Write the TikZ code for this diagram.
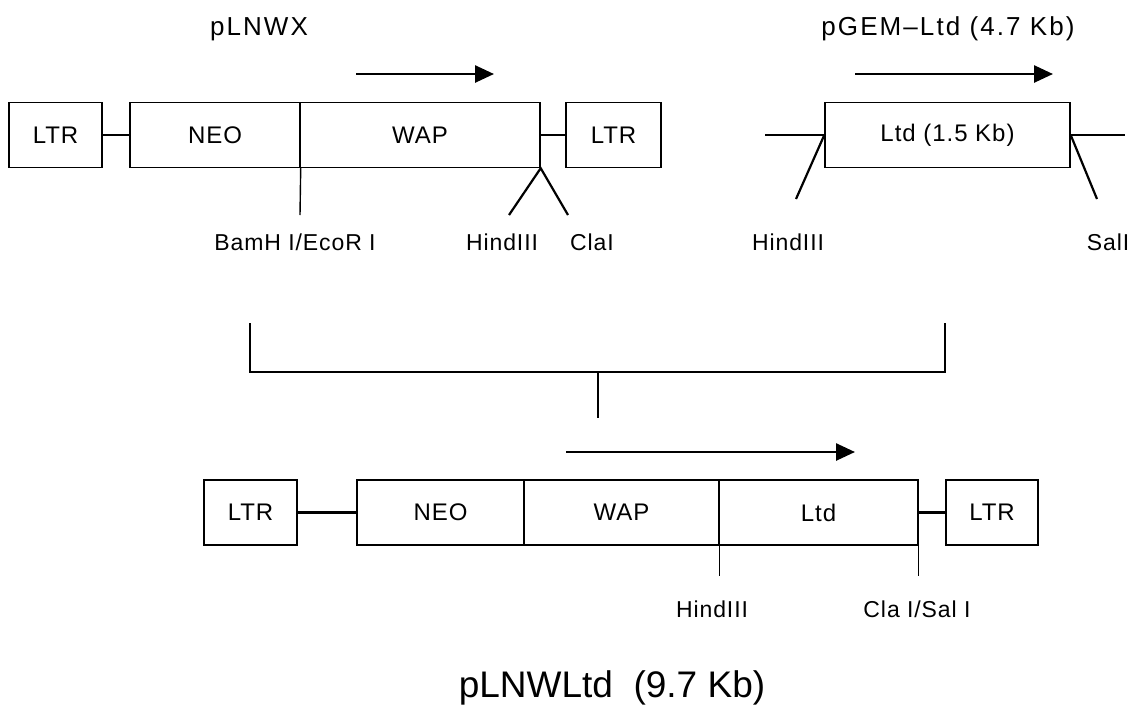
\documentclass[tikz,border=0pt]{standalone}
\usepackage{fontspec}
\setmainfont{Liberation Sans}
\usetikzlibrary{positioning, arrows.meta}

\begin{document}
\begin{tikzpicture}[x=1pt, y=-1pt,
  box/.style={draw, line width=1.4pt, minimum height=65pt, inner sep=0pt, font=\fontsize{24}{28}\selectfont\addfontfeature{LetterSpace=4}},
  site/.style={font=\fontsize{23}{27}\selectfont\addfontfeature{LetterSpace=4}, anchor=base},
  title/.style={font=\fontsize{26}{31}\selectfont\addfontfeature{LetterSpace=8}, anchor=base},
  link/.style={line width=2.2pt},
  cut/.style={line width=1.4pt},
  dir/.style={line width=2.6pt, -{Triangle[length=19pt, width=17pt]}}]
  \useasboundingbox (0,0) rectangle (1130,713);

  \node[title] (pLNWX) at (259,35) {pLNWX};
  \node[title] (pGEM) at (948,35) {pGEM–Ltd (4.7 Kb)};
  \draw[dir] (356,74) -- (494,74);
  \draw[dir] (855,74) -- (1053,74);

  \node[box, minimum width=93pt] (ltrA) at (55.5,135) {LTR};
  \node[box, minimum width=170pt] (neoA) at (215,135) {NEO};
  \node[box, minimum width=240pt] (wapA) at (420,135) {WAP};
  \node[box, minimum width=95pt] (ltrB) at (613.5,135) {LTR};
  \node[box, minimum width=245pt] (ltdA) at (947.5,135) {Ltd (1.5 Kb)};
  \draw[link] (ltrA) -- (neoA);
  \draw[link] (wapA) -- (ltrB);
  \coordinate (vecL) at (765,135);
  \coordinate (vecR) at (1125,135);
  \draw[link] (vecL) -- (ltdA.west);
  \draw[link] (ltdA.east) -- (vecR);

  \coordinate (bamA) at (300,215);
  \coordinate (hinA) at (509,215);
  \coordinate (claA) at (568,215);
  \coordinate (hinB) at (796,199);
  \coordinate (salB) at (1097,199);
  \draw[cut] (neoA.south east) -- (bamA);
  \draw[link] (hinA) -- (wapA.south east) -- (claA);
  \draw[link] (ltdA.west) -- (hinB);
  \draw[link] (ltdA.east) -- (salB);

  \node[site] (bamLab) at (295,250) {BamH I/EcoR I};
  \node[site] (hinLabA) at (502,250) {HindIII};
  \node[site] (claLab) at (592,250) {ClaI};
  \node[site] (hinLabB) at (788,250) {HindIII};
  \node[site] (salLab) at (1108,250) {SalI};

  \coordinate (brL) at (250,323);
  \coordinate (brR) at (945,323);
  \coordinate (brM) at (598,372);
  \coordinate (brD) at (598,418);
  \draw[cut] (brL) |- (brM) -| (brR);
  \draw[cut] (brM) -- (brD);

  \draw[dir] (566,452) -- (855,452);
  \node[box, minimum width=93pt] (ltrC) at (250.5,512.5) {LTR};
  \node[box, minimum width=167pt] (neoB) at (440.5,512.5) {NEO};
  \node[box, minimum width=195pt] (wapB) at (621.5,512.5) {WAP};
  \node[box, minimum width=199pt] (ltdB) at (818.5,512.5) {Ltd};
  \node[box, minimum width=92pt] (ltrD) at (992,512.5) {LTR};
  \draw[link] (ltrC) -- (neoB);
  \draw[link] (ltdB) -- (ltrD);
  \foreach \src/\dst in {wapB/hinC, ltdB/clsC}{
    \draw[cut] (\src.south east) -- ++(0,30) coordinate (\dst);
  }
  \node[site] (hinLabC) at (712,617) {HindIII};
  \node[site] (clsLab) at (917,617) {Cla I/Sal I};

  \node[title, font=\fontsize{37}{44}\selectfont] (pLNWLtd) at (612,697) {pLNWLtd\ \ (9.7 Kb)};
\end{tikzpicture}
\end{document}
